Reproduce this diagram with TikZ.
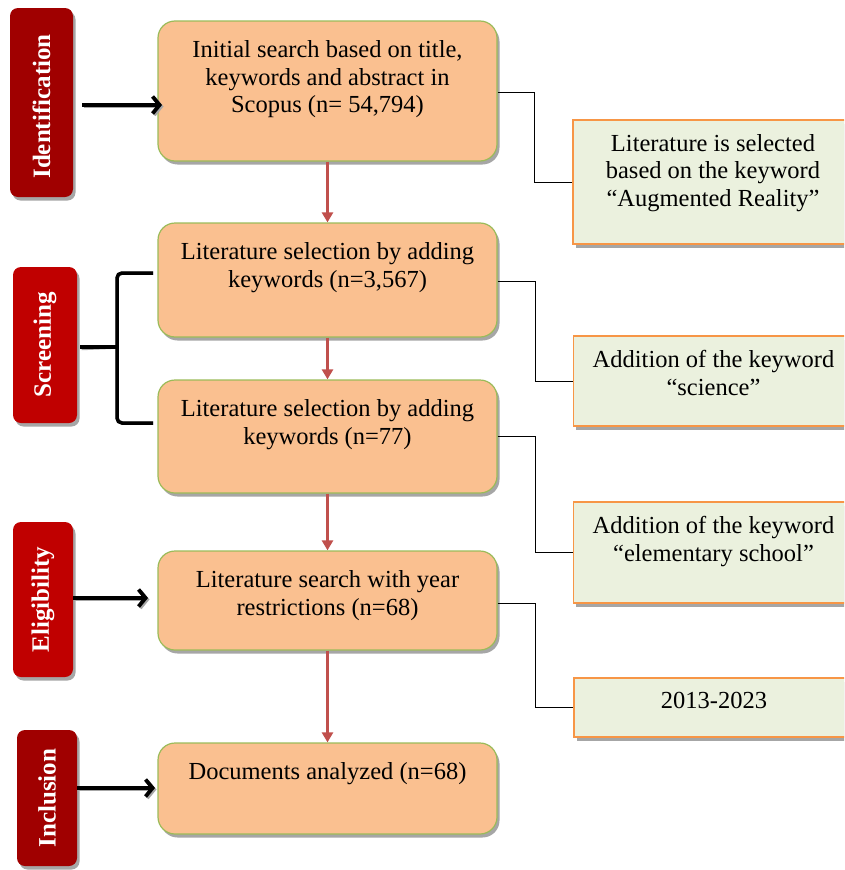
\documentclass[tikz,border=0pt]{standalone}
\usepackage{fontspec}
\setmainfont{Liberation Serif}
\usetikzlibrary{shadows,arrows.meta,calc}
\definecolor{boxfill}{HTML}{FAC090}
\definecolor{boxline}{HTML}{9BBB59}
\definecolor{rfill}{HTML}{EBF1DE}
\definecolor{rline}{HTML}{F79646}
\definecolor{redarr}{HTML}{C0504D}
\definecolor{darkred}{HTML}{A00000}
\definecolor{midred}{HTML}{C00000}
\definecolor{shad}{HTML}{A6A6A6}
\tikzset{
  shd/.style={drop shadow={shadow xshift=2.5pt, shadow yshift=-3.5pt, fill=shad, opacity=1}},
  mainbox/.style={draw=boxline, line width=1.2pt, fill=boxfill, rounded corners=17pt, minimum width=339pt, inner sep=0pt, shd},
  sidebox/.style={draw=rline, line width=1.2pt, fill=rfill, minimum width=280pt, inner sep=0pt, shd},
  lblbox/.style={rounded corners=8pt, inner sep=0pt, shd},
  lbltxt/.style={text=white, font=\fontsize{25}{28}\selectfont\bfseries, rotate=90},
  txt/.style={font=\fontsize{24.5}{27.4}\selectfont, align=center, inner sep=0pt, anchor=north},
  conn/.style={draw=black, line width=0.9pt},
  redarrow/.style={draw=redarr, line width=3pt, -{Triangle[length=10pt,width=11pt]}},
  blkarrow/.style={draw=black, line width=3.8pt, -{Straight Barb[length=7pt,width=17pt,line width=3.8pt]}},
  blkshadow/.style={draw=shad, line width=3.8pt, -{Straight Barb[length=7pt,width=17pt,line width=3.8pt]}},
}
\begin{document}
\begin{tikzpicture}[x=1pt,y=-1pt]
\useasboundingbox (0,0) rectangle (844,870);
\clip (0,0) rectangle (844,870);
% main boxes
\node[mainbox, minimum height=140pt] (b1) at (327.5,91) {};
\node[mainbox, minimum height=114pt] (b2) at (327.5,280) {};
\node[mainbox, minimum height=113pt] (b3) at (327.5,436.5) {};
\node[mainbox, minimum height=99pt] (b4) at (327.5,600.5) {};
\node[mainbox, minimum height=91pt] (b5) at (327.5,788.5) {};
\node[txt] (t1) at ([yshift=-20.3pt]b1.north) {Initial search based on title,\\keywords and abstract in\\Scopus (n= 54,794)};
\node[txt] (t2) at ([yshift=-20.3pt]b2.north) {Literature selection by adding\\keywords (n=3,567)};
\node[txt] (t3) at ([yshift=-20.3pt]b3.north) {Literature selection by adding\\keywords (n=77)};
\node[txt] (t4) at ([yshift=-20.3pt]b4.north) {Literature search with year\\restrictions (n=68)};
\node[txt] (t5) at ([yshift=-20.3pt]b5.north) {Documents analyzed (n=68)};
% side boxes
\node[sidebox, minimum height=124pt] (r1) at (713,182) {};
\node[sidebox, minimum height=90pt] (r2) at (713.5,381) {};
\node[sidebox, minimum height=101pt] (r3) at (713.5,552.5) {};
\node[sidebox, minimum height=59pt] (r4) at (714,707.5) {};
\node[txt] (s1) at ([yshift=-14.8pt]r1.north) {Literature is selected\\based on the keyword\\“Augmented Reality”};
\node[txt] (s2) at ([yshift=-14.8pt]r2.north) {Addition of the keyword\\“science”};
\node[txt] (s3) at ([yshift=-14.8pt]r3.north) {Addition of the keyword\\“elementary school”};
\node[txt] (s4) at ([yshift=-14.3pt]r4.north) {2013-2023};
% connectors
\draw[conn] (b1.east |- 0,92) -- (534,92) |- (r1.west);
\draw[conn] (b2.east |- 0,281) -- (535,281) |- (r2.west);
\draw[conn] (b3.east |- 0,436) -- (535,436) |- (r3.west);
\draw[conn] (b4.east |- 0,603) -- (535,603) |- (r4.west);
% red arrows
\draw[redarrow] (b1.south) -- (b2.north);
\draw[redarrow] (b2.south) -- (b3.north);
\draw[redarrow] (b3.south) -- (b4.north);
\draw[redarrow] (b4.south) -- (b5.north);
% labels
\node[lblbox, fill=darkred, minimum width=63pt, minimum height=189pt] (id) at (41.5,102.5) {};
\node[lbltxt] at ([yshift=-4pt]id.center) {Identification};
\node[lblbox, fill=midred, minimum width=64pt, minimum height=156pt] (sc) at (45,345) {};
\node[lbltxt] at (sc.center) {Screening};
\node[lblbox, fill=midred, minimum width=60pt, minimum height=155pt] (el) at (43,599.5) {};
\node[lbltxt] at (el.center) {Eligibility};
\node[lblbox, fill=darkred, minimum width=60pt, minimum height=136pt] (inc) at (47,798) {};
\node[lbltxt] at (inc.center) {Inclusion};
% black arrows
\coordinate (ida) at (82,105);
\coordinate (idb) at (162,105);
\draw[blkshadow] ([shift={(1.5,1.5)}]ida) -- ([shift={(1.5,1.5)}]idb);
\draw[blkarrow] (ida) -- (idb);
\coordinate (ela) at (73,598);
\coordinate (elb) at (148,598);
\draw[blkshadow] ([shift={(1.5,1.5)}]ela) -- ([shift={(1.5,1.5)}]elb);
\draw[blkarrow] (ela) -- (elb);
\coordinate (inca) at (77,788);
\coordinate (incb) at (155,788);
\draw[blkshadow] ([shift={(1.5,1.5)}]inca) -- ([shift={(1.5,1.5)}]incb);
\draw[blkarrow] (inca) -- (incb);
% screening bracket
\coordinate (bm) at (117,347);
\coordinate (bt) at (153,273);
\coordinate (bb) at (153,423);
\draw[shad, line width=3.5pt, rounded corners=5pt, shift={(1.5,1.5)}] (bt) -- (bt -| bm) -- (bb -| bm) -- (bb);
\draw[shad, line width=3.5pt, shift={(1.5,1.5)}] (80,347) -- (bm);
\draw[black, line width=3.5pt, rounded corners=5pt] (bt) -- (bt -| bm) -- (bb -| bm) -- (bb);
\draw[black, line width=3.5pt] (80,347) -- (bm);
\end{tikzpicture}
\end{document}
